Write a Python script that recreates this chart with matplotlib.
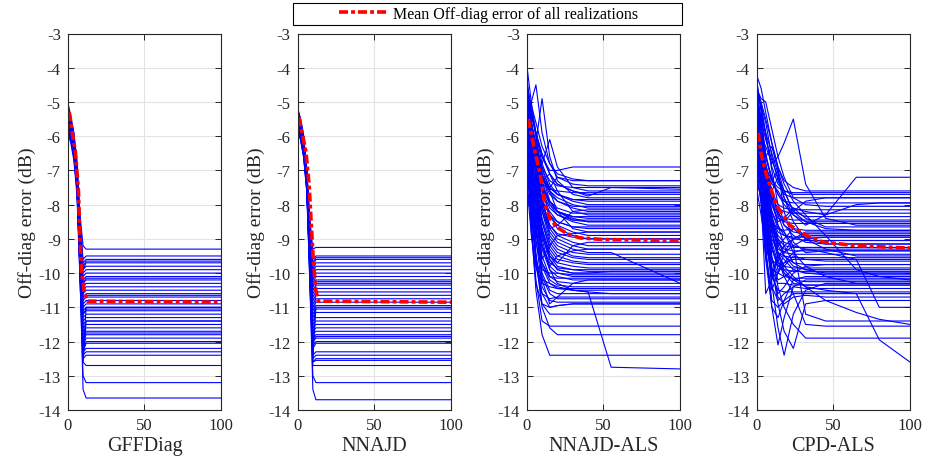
import matplotlib.pyplot as plt
from matplotlib.patches import Rectangle

# ---- data (Off-diag error in dB vs iteration) ----
panel_names = ["GFFDiag", "NNAJD", "NNAJD-ALS", "CPD-ALS"]

# GFFDiag: each run sampled at these iterations
gffdiag_x = [0, 2, 4, 6, 8, 10, 12, 100]
gffdiag_runs = [
    [-5.0, -5.4, -5.9, -6.9, -8.3, -9.2, -9.3, -9.3],
    [-5.2, -5.5, -6.0, -6.8, -8.5, -9.6, -9.5, -9.5],
    [-5.3, -5.6, -6.1, -7.0, -8.6, -9.7, -9.6, -9.6],
    [-5.1, -5.5, -5.9, -6.7, -8.4, -9.8, -9.65, -9.65],
    [-5.4, -5.7, -6.2, -7.1, -8.7, -9.9, -9.7, -9.7],
    [-5.5, -5.8, -6.3, -7.2, -8.8, -9.9, -9.8, -9.8],
    [-5.2, -5.6, -6.0, -6.9, -8.6, -10.0, -9.9, -9.9],
    [-5.6, -5.9, -6.4, -7.3, -9.0, -10.1, -10.0, -10.0],
    [-5.3, -5.7, -6.1, -7.0, -8.8, -10.2, -10.1, -10.1],
    [-5.4, -5.8, -6.3, -7.2, -9.0, -10.3, -10.15, -10.15],
    [-5.7, -6.0, -6.5, -7.4, -9.1, -10.3, -10.2, -10.2],
    [-5.2, -5.6, -6.1, -7.0, -8.9, -10.4, -10.3, -10.3],
    [-5.5, -5.8, -6.3, -7.3, -9.2, -10.5, -10.4, -10.4],
    [-5.3, -5.7, -6.2, -7.1, -9.0, -10.6, -10.5, -10.5],
    [-5.8, -6.1, -6.6, -7.5, -9.3, -10.7, -10.6, -10.6],
    [-5.4, -5.8, -6.2, -7.1, -9.1, -10.7, -10.65, -10.65],
    [-5.6, -5.9, -6.4, -7.3, -9.3, -10.8, -10.7, -10.7],
    [-5.3, -5.7, -6.1, -7.0, -9.1, -10.9, -10.8, -10.8],
    [-5.5, -5.8, -6.3, -7.2, -9.3, -11.0, -10.9, -10.9],
    [-5.2, -5.6, -6.1, -7.1, -9.2, -11.1, -11.0, -11.0],
    [-5.7, -6.0, -6.5, -7.5, -9.5, -11.2, -11.05, -11.05],
    [-5.4, -5.7, -6.2, -7.2, -9.3, -11.2, -11.1, -11.1],
    [-5.6, -5.9, -6.4, -7.4, -9.5, -11.3, -11.2, -11.2],
    [-5.3, -5.6, -6.1, -7.1, -9.3, -11.4, -11.3, -11.3],
    [-5.5, -5.8, -6.3, -7.3, -9.6, -11.5, -11.4, -11.4],
    [-5.8, -6.1, -6.6, -7.6, -9.8, -11.6, -11.5, -11.5],
    [-5.4, -5.7, -6.2, -7.2, -9.5, -11.7, -11.6, -11.6],
    [-5.6, -5.9, -6.4, -7.4, -9.7, -11.8, -11.7, -11.7],
    [-5.3, -5.6, -6.1, -7.1, -9.5, -11.9, -11.75, -11.75],
    [-5.5, -5.8, -6.3, -7.3, -9.8, -12.0, -11.8, -11.8],
    [-5.7, -6.0, -6.5, -7.5, -9.9, -12.1, -11.9, -11.9],
    [-5.4, -5.7, -6.2, -7.2, -9.7, -12.2, -12.0, -12.0],
    [-5.6, -5.9, -6.4, -7.4, -9.9, -12.3, -12.05, -12.05],
    [-5.3, -5.6, -6.1, -7.1, -9.7, -12.3, -12.2, -12.2],
    [-5.5, -5.8, -6.3, -7.3, -9.9, -12.4, -12.3, -12.3],
    [-5.9, -6.2, -6.7, -7.7, -10.2, -12.5, -12.4, -12.4],
    [-5.4, -5.7, -6.2, -7.2, -9.9, -12.6, -12.7, -12.7],
    [-5.6, -5.9, -6.4, -7.4, -10.1, -13.0, -13.2, -13.2],
    [-5.5, -5.8, -6.3, -7.3, -10.0, -13.4, -13.65, -13.65],
    [-5.3, -5.6, -6.1, -7.1, -9.4, -12.4, -11.0, -11.0],
    [-5.6, -5.9, -6.4, -7.3, -9.6, -12.6, -11.4, -11.4],
]
gffdiag_mean_x = [1, 3, 5, 7, 8, 9, 11, 13, 100]
gffdiag_mean_y = [-5.3, -5.9, -6.45, -7.6, -9.0, -9.95, -10.6, -10.82, -10.85]

# NNAJD
nnajd_x = [0, 2, 4, 6, 8, 10, 12, 100]
nnajd_runs = [
    [-5.15, -5.5, -6.0, -7.0, -8.4, -9.3, -9.25, -9.25],
    [-5.3, -5.6, -6.1, -6.9, -8.6, -9.6, -9.5, -9.5],
    [-5.2, -5.5, -6.0, -7.0, -8.5, -9.7, -9.55, -9.55],
    [-5.4, -5.7, -6.2, -7.1, -8.7, -9.8, -9.6, -9.6],
    [-5.5, -5.8, -6.3, -7.2, -8.8, -9.9, -9.7, -9.7],
    [-5.3, -5.6, -6.1, -7.0, -8.7, -9.95, -9.8, -9.8],
    [-5.6, -5.9, -6.4, -7.3, -9.0, -10.1, -9.9, -9.9],
    [-5.4, -5.7, -6.2, -7.1, -8.9, -10.2, -10.0, -10.0],
    [-5.2, -5.6, -6.1, -7.0, -8.8, -10.3, -10.1, -10.1],
    [-5.7, -6.0, -6.5, -7.4, -9.2, -10.4, -10.2, -10.2],
    [-5.5, -5.8, -6.3, -7.2, -9.0, -10.4, -10.25, -10.25],
    [-5.3, -5.7, -6.2, -7.1, -9.0, -10.5, -10.35, -10.35],
    [-5.6, -5.9, -6.4, -7.3, -9.2, -10.6, -10.45, -10.45],
    [-5.4, -5.8, -6.3, -7.2, -9.1, -10.7, -10.55, -10.55],
    [-5.8, -6.1, -6.6, -7.5, -9.4, -10.8, -10.65, -10.65],
    [-5.5, -5.8, -6.3, -7.2, -9.2, -10.9, -10.75, -10.75],
    [-5.3, -5.6, -6.1, -7.1, -9.1, -11.0, -10.85, -10.85],
    [-5.6, -5.9, -6.4, -7.4, -9.4, -11.1, -10.95, -10.95],
    [-5.4, -5.7, -6.2, -7.2, -9.3, -11.2, -11.05, -11.05],
    [-5.7, -6.0, -6.5, -7.5, -9.5, -11.3, -11.15, -11.15],
    [-5.5, -5.8, -6.3, -7.3, -9.4, -11.4, -11.3, -11.3],
    [-5.3, -5.6, -6.1, -7.1, -9.3, -11.5, -11.4, -11.4],
    [-5.6, -5.9, -6.4, -7.4, -9.6, -11.6, -11.5, -11.5],
    [-5.4, -5.7, -6.2, -7.2, -9.5, -11.7, -11.6, -11.6],
    [-5.8, -6.1, -6.6, -7.6, -9.8, -11.8, -11.7, -11.7],
    [-5.5, -5.8, -6.3, -7.3, -9.6, -11.9, -11.8, -11.8],
    [-5.3, -5.6, -6.1, -7.1, -9.5, -12.0, -11.85, -11.85],
    [-5.6, -5.9, -6.4, -7.4, -9.8, -12.0, -11.9, -11.9],
    [-5.4, -5.7, -6.2, -7.2, -9.7, -12.1, -12.0, -12.0],
    [-5.7, -6.0, -6.5, -7.5, -9.9, -12.2, -12.05, -12.05],
    [-5.5, -5.8, -6.3, -7.3, -9.8, -12.4, -12.3, -12.3],
    [-5.3, -5.6, -6.1, -7.1, -9.7, -12.5, -12.4, -12.4],
    [-5.6, -5.9, -6.4, -7.4, -10.0, -12.6, -12.5, -12.5],
    [-5.4, -5.7, -6.2, -7.2, -9.9, -12.6, -12.55, -12.55],
    [-5.8, -6.1, -6.6, -7.6, -10.2, -12.7, -12.7, -12.7],
    [-5.5, -5.8, -6.3, -7.3, -10.1, -13.0, -13.2, -13.2],
    [-5.6, -5.9, -6.4, -7.4, -10.2, -13.4, -13.7, -13.7],
    [-5.4, -5.7, -6.2, -7.2, -9.6, -12.3, -10.3, -10.3],
    [-5.5, -5.8, -6.3, -7.3, -9.7, -12.5, -11.0, -11.0],
]
nnajd_mean_x = [1, 3, 5.5, 7.6, 9, 10.4, 12, 13.5, 100]
nnajd_mean_y = [-5.45, -5.9, -6.46, -7.44, -8.6, -9.7, -10.5, -10.82, -10.85]

# NNAJD-ALS
als_x = [0, 3, 6, 10, 15, 20, 30, 40, 55, 100]
als_runs = [
    [-3.9, -5.0, -5.9, -6.6, -7.0, -7.0, -6.9, -6.9, -6.9, -6.9],
    [-4.5, -5.1, -5.6, -6.3, -6.8, -7.1, -7.25, -7.3, -7.3, -7.3],
    [-5.2, -5.0, -4.5, -5.9, -6.8, -7.2, -7.4, -7.45, -7.45, -7.45],
    [-4.7, -5.3, -5.9, -6.6, -7.1, -7.4, -7.6, -7.75, -7.5, -7.55],
    [-5.6, -6.0, -6.4, -6.8, -6.1, -6.9, -7.5, -7.6, -7.6, -7.6],
    [-4.8, -5.4, -5.9, -6.5, -7.1, -7.4, -7.6, -7.7, -7.7, -7.7],
    [-5.1, -5.8, -6.2, -4.9, -6.6, -7.3, -7.7, -7.8, -7.8, -7.8],
    [-6.2, -6.6, -6.9, -7.2, -7.5, -7.7, -7.85, -7.9, -7.9, -7.9],
    [-4.6, -5.3, -5.9, -6.8, -7.4, -7.7, -7.9, -8.0, -8.0, -8.0],
    [-5.8, -6.3, -6.7, -7.1, -7.6, -7.8, -8.0, -8.1, -8.1, -8.1],
    [-4.9, -5.6, -6.2, -6.9, -7.6, -7.9, -8.1, -8.2, -8.2, -8.2],
    [-5.4, -6.1, -6.6, -7.3, -7.1, -7.6, -8.2, -8.3, -8.3, -8.3],
    [-6.5, -6.9, -7.2, -7.5, -7.9, -8.2, -8.35, -8.4, -8.4, -8.4],
    [-4.4, -5.3, -6.0, -7.1, -7.9, -8.2, -8.4, -8.5, -8.5, -8.5],
    [-5.3, -6.0, -6.5, -7.3, -8.0, -8.3, -8.5, -8.6, -8.6, -8.6],
    [-7.0, -7.3, -7.6, -7.9, -8.2, -8.5, -8.65, -8.7, -8.7, -8.7],
    [-5.0, -5.8, -6.4, -7.2, -7.6, -8.2, -8.7, -8.8, -8.8, -8.8],
    [-5.7, -6.3, -6.8, -7.6, -8.3, -8.6, -8.8, -8.9, -8.9, -8.9],
    [-4.6, -5.6, -6.3, -7.5, -8.3, -8.7, -8.9, -9.0, -9.0, -9.0],
    [-6.0, -6.6, -7.1, -7.9, -8.6, -8.9, -9.1, -9.2, -9.2, -9.2],
    [-5.2, -6.1, -6.8, -7.9, -8.7, -9.0, -9.2, -9.3, -9.3, -9.3],
    [-6.8, -7.2, -7.6, -8.2, -8.8, -9.1, -9.3, -9.4, -9.4, -10.3],
    [-4.8, -5.9, -6.7, -8.0, -8.9, -9.2, -9.4, -9.45, -9.45, -9.45],
    [-5.5, -6.4, -7.0, -8.2, -9.0, -9.3, -9.5, -9.55, -9.55, -9.55],
    [-6.3, -7.0, -7.5, -8.4, -9.1, -9.4, -9.55, -9.6, -9.6, -9.6],
    [-5.0, -6.2, -7.1, -8.5, -9.2, -9.5, -9.65, -9.7, -9.7, -9.7],
    [-5.9, -6.8, -7.4, -8.5, -9.3, -9.6, -9.7, -9.75, -9.75, -9.75],
    [-7.2, -7.7, -8.1, -8.7, -9.4, -9.7, -9.8, -9.85, -9.85, -9.85],
    [-4.7, -6.1, -7.2, -8.8, -9.5, -9.8, -9.9, -9.95, -9.95, -9.95],
    [-5.6, -6.7, -7.5, -8.9, -9.6, -9.9, -10.0, -10.0, -10.0, -10.0],
    [-6.6, -7.5, -8.1, -9.2, -9.8, -10.0, -10.1, -10.1, -10.1, -10.1],
    [-5.1, -6.7, -7.8, -9.3, -9.9, -10.1, -10.2, -10.2, -10.2, -10.2],
    [-6.0, -7.3, -8.2, -9.5, -10.1, -10.25, -10.3, -10.3, -10.3, -10.3],
    [-7.5, -8.2, -8.8, -9.7, -10.2, -10.35, -10.4, -10.4, -10.4, -10.4],
    [-5.3, -7.0, -8.3, -9.8, -10.3, -10.45, -10.5, -10.5, -10.5, -10.5],
    [-6.2, -7.6, -8.7, -10.0, -10.5, -10.6, -10.6, -10.6, -10.6, -10.6],
    [-4.9, -6.9, -8.5, -10.1, -10.6, -10.75, -10.75, -10.75, -10.75, -10.75],
    [-5.8, -7.6, -9.0, -10.4, -10.8, -10.85, -10.85, -10.85, -10.85, -10.85],
    [-6.9, -8.3, -9.5, -10.6, -11.0, -10.95, -10.9, -10.9, -10.9, -10.9],
    [-5.4, -7.6, -9.4, -10.9, -11.2, -11.2, -11.2, -11.2, -11.2, -11.2],
    [-6.4, -8.5, -10.2, -11.4, -11.55, -11.55, -11.55, -11.55, -11.55, -11.55],
    [-5.6, -7.9, -9.6, -11.0, -11.6, -11.8, -11.8, -11.8, -11.8, -11.8],
    [-6.1, -8.6, -10.5, -11.8, -12.4, -12.4, -12.4, -12.4, -12.4, -12.4],
    [-5.0, -6.4, -7.6, -9.0, -9.9, -10.3, -10.5, -10.55, -12.75, -12.8],
    [-5.3, -7.1, -8.6, -10.2, -10.9, -10.7, -10.3, -10.2, -10.2, -10.2],
    [-6.7, -7.3, -7.9, -8.7, -9.5, -9.7, -9.2, -9.1, -9.1, -9.1],
    [-4.2, -5.5, -6.6, -7.9, -8.6, -8.85, -8.95, -9.0, -9.0, -9.0],
    [-5.9, -6.4, -6.9, -7.4, -7.9, -8.2, -8.45, -8.5, -8.5, -8.5],
    [-5.5, -6.0, -6.4, -6.9, -7.3, -7.45, -7.5, -7.5, -7.5, -7.5],
    [-6.8, -7.0, -7.2, -7.4, -7.55, -7.6, -7.65, -7.65, -7.65, -7.65],
    [-4.5, -5.6, -6.3, -7.0, -7.5, -7.7, -7.85, -7.85, -7.85, -7.85],
    [-5.2, -5.9, -6.5, -7.2, -7.7, -7.9, -8.05, -8.05, -8.05, -8.05],
    [-6.0, -6.5, -6.9, -7.5, -7.9, -8.1, -8.25, -8.25, -8.25, -8.25],
    [-4.9, -5.8, -6.6, -7.5, -8.0, -8.2, -8.35, -8.35, -8.35, -8.35],
    [-5.7, -6.3, -6.9, -7.6, -8.1, -8.3, -8.45, -8.45, -8.45, -8.45],
    [-6.4, -6.9, -7.3, -7.9, -8.3, -8.5, -8.65, -8.65, -8.65, -8.65],
    [-6.5, -8.8, -10.3, -10.9, -11.0, -10.95, -10.9, -10.9, -10.9, -10.9],
    [-5.9, -8.2, -9.6, -10.2, -10.3, -10.4, -10.5, -10.55, -10.6, -10.6],
    [-4.9, -7.4, -9.1, -9.9, -10.0, -10.0, -10.05, -10.05, -10.05, -10.05],
    [-7.3, -8.9, -9.8, -10.3, -10.4, -10.45, -10.45, -10.45, -10.45, -10.45],
    [-5.4, -6.3, -7.6, -8.9, -9.6, -9.9, -10.0, -10.0, -9.95, -9.95],
    [-4.6, -5.2, -6.0, -7.3, -7.5, -7.2, -7.3, -7.3, -7.3, -7.3],
    [-6.0, -6.8, -7.9, -9.2, -9.8, -9.5, -9.35, -9.3, -9.3, -9.3],
    [-5.1, -6.6, -8.2, -9.6, -9.2, -8.9, -8.85, -8.8, -8.8, -8.8],
    [-6.3, -7.6, -8.8, -9.7, -10.1, -10.15, -10.15, -10.15, -10.15, -10.15],
    [-5.7, -7.9, -9.8, -10.6, -10.75, -10.7, -10.7, -10.7, -10.7, -10.7],
    [-4.8, -5.9, -7.0, -8.1, -8.7, -8.6, -8.2, -8.15, -8.15, -8.15],
    [-6.6, -7.4, -8.3, -9.2, -9.7, -9.85, -9.9, -9.9, -9.9, -9.9],
]
als_mean_x = [1, 5.4, 8.7, 11.9, 15.1, 19.4, 25.9, 34.6, 50, 100]
als_mean_y = [-5.5, -6.46, -7.1, -8.0, -8.4, -8.65, -8.84, -8.97, -9.02, -9.05]

# CPD-ALS
cpd_x = [0, 3, 6, 10, 14, 18, 24, 32, 45, 65, 80, 100]
cpd_runs = [
    [-4.2, -4.6, -5.3, -6.2, -6.9, -7.3, -7.5, -7.6, -7.6, -7.6, -7.6, -7.6],
    [-4.6, -4.9, -5.0, -5.8, -6.6, -6.2, -5.5, -7.4, -8.4, -8.6, -8.6, -8.6],
    [-5.0, -5.5, -6.1, -6.7, -7.2, -7.8, -8.3, -8.6, -8.3, -7.2, -7.2, -7.2],
    [-4.4, -5.2, -6.0, -6.9, -7.4, -7.6, -7.7, -7.7, -7.7, -7.7, -7.7, -7.7],
    [-5.3, -5.1, -5.6, -6.6, -7.3, -7.7, -7.8, -7.8, -7.8, -7.8, -7.8, -7.8],
    [-4.9, -5.7, -6.5, -7.3, -7.7, -7.9, -7.95, -7.95, -7.95, -7.95, -7.95, -7.95],
    [-5.8, -6.0, -6.3, -6.8, -6.6, -7.2, -7.8, -8.0, -8.05, -8.05, -8.05, -8.05],
    [-5.5, -6.2, -6.9, -7.6, -8.0, -8.1, -8.15, -8.15, -8.15, -8.15, -8.15, -8.15],
    [-6.2, -6.7, -7.2, -7.8, -8.1, -8.2, -8.25, -8.25, -8.25, -8.25, -8.25, -8.25],
    [-4.7, -5.6, -6.6, -7.3, -7.0, -7.6, -8.2, -8.35, -8.35, -8.35, -8.35, -8.35],
    [-5.6, -6.4, -7.1, -7.9, -8.3, -8.4, -8.45, -8.45, -8.45, -8.45, -8.45, -8.45],
    [-6.6, -7.0, -7.5, -8.0, -8.4, -8.5, -8.55, -8.55, -8.55, -8.55, -8.55, -8.55],
    [-5.1, -6.0, -7.0, -8.0, -8.5, -8.4, -8.1, -8.4, -8.65, -8.65, -8.65, -8.65],
    [-4.8, -5.9, -7.1, -8.2, -8.7, -8.75, -8.7, -8.75, -8.75, -8.75, -8.75, -8.75],
    [-6.0, -6.7, -7.3, -7.8, -8.2, -8.6, -8.8, -8.85, -8.85, -8.85, -8.85, -8.85],
    [-5.4, -6.5, -7.5, -8.4, -8.8, -8.9, -8.95, -8.95, -8.95, -8.95, -8.95, -8.95],
    [-7.0, -7.3, -7.7, -8.2, -8.6, -8.9, -9.0, -9.05, -9.05, -9.05, -9.05, -9.05],
    [-5.2, -6.4, -7.6, -8.7, -9.2, -9.0, -8.7, -9.0, -9.15, -9.15, -9.15, -9.15],
    [-5.9, -6.8, -7.7, -8.6, -9.0, -9.2, -9.25, -9.25, -9.25, -9.25, -9.25, -9.25],
    [-4.5, -5.8, -7.2, -8.5, -9.1, -9.3, -9.35, -9.35, -9.35, -9.35, -9.35, -9.35],
    [-6.4, -7.0, -7.7, -8.5, -9.1, -9.4, -9.45, -9.45, -9.45, -9.45, -9.45, -9.45],
    [-5.7, -6.9, -8.0, -9.0, -9.4, -9.5, -9.55, -9.55, -9.55, -9.55, -9.55, -9.55],
    [-5.0, -6.3, -7.8, -9.2, -9.9, -9.8, -9.5, -9.6, -9.65, -9.65, -9.65, -9.65],
    [-6.8, -7.3, -7.9, -8.6, -9.2, -9.5, -9.7, -9.75, -9.75, -9.75, -9.75, -9.75],
    [-5.3, -6.7, -8.1, -9.3, -9.7, -9.8, -9.85, -9.85, -9.85, -9.85, -9.85, -9.85],
    [-6.1, -7.1, -8.2, -9.3, -9.8, -9.9, -9.95, -9.95, -9.95, -9.95, -9.95, -9.95],
    [-4.9, -6.5, -8.2, -9.6, -10.2, -10.1, -9.9, -10.0, -10.05, -10.05, -10.05, -10.05],
    [-5.6, -7.0, -8.4, -9.6, -10.0, -10.1, -10.15, -10.15, -10.15, -10.15, -10.15, -10.15],
    [-7.3, -7.8, -8.4, -9.1, -9.7, -10.0, -10.2, -10.25, -10.25, -10.25, -10.25, -10.25],
    [-5.8, -7.3, -8.7, -9.9, -10.3, -10.3, -10.35, -10.35, -10.35, -10.35, -10.35, -10.35],
    [-5.1, -6.9, -8.8, -10.4, -10.8, -10.6, -10.4, -10.45, -10.45, -10.45, -10.45, -10.45],
    [-6.3, -7.7, -9.0, -10.1, -10.5, -10.55, -10.55, -10.55, -10.55, -10.55, -10.55, -10.55],
    [-5.5, -7.5, -9.4, -10.8, -11.0, -10.8, -10.6, -10.6, -10.6, -10.6, -10.6, -10.6],
    [-5.5, -7.0, -8.5, -10.3, -11.6, -12.4, -11.2, -10.5, -10.3, -10.3, -10.3, -10.3],
    [-6.0, -7.6, -9.2, -11.0, -12.1, -11.3, -10.4, -10.2, -10.2, -10.2, -10.2, -10.2],
    [-5.2, -6.8, -8.3, -9.8, -10.9, -11.7, -12.2, -10.9, -10.8, -10.8, -10.8, -10.8],
    [-5.7, -7.8, -10.6, -10.2, -9.4, -9.6, -9.9, -10.0, -10.0, -10.0, -10.0, -10.0],
    [-6.5, -7.2, -7.9, -8.5, -8.7, -8.8, -9.2, -11.2, -11.4, -11.4, -11.4, -11.4],
    [-5.4, -6.6, -7.7, -8.8, -9.6, -10.1, -10.6, -11.5, -11.55, -11.55, -11.55, -11.55],
    [-4.8, -6.2, -7.9, -9.5, -10.4, -11.0, -11.5, -11.9, -11.9, -11.9, -11.9, -11.9],
    [-5.9, -6.9, -7.9, -8.8, -9.4, -9.8, -10.1, -10.4, -10.8, -11.15, -11.35, -11.5],
    [-6.1, -7.0, -7.8, -8.5, -8.9, -9.1, -9.2, -9.3, -9.4, -9.6, -11.0, -11.0],
    [-5.3, -6.4, -7.6, -8.8, -9.5, -9.9, -10.2, -10.4, -10.5, -10.6, -11.95, -12.6],
    [-4.3, -5.3, -6.6, -6.3, -7.0, -8.2, -9.1, -9.4, -9.35, -9.35, -9.35, -9.35],
    [-6.9, -7.5, -8.0, -7.6, -7.2, -7.6, -8.2, -8.5, -8.5, -8.5, -8.5, -8.5],
    [-5.0, -5.4, -5.9, -6.5, -7.1, -7.8, -8.5, -9.0, -9.3, -9.5, -9.5, -9.5],
    [-6.5, -7.4, -8.6, -9.9, -10.7, -10.9, -10.7, -10.65, -10.7, -10.7, -10.7, -10.7],
    [-4.6, -5.0, -5.5, -6.2, -6.9, -7.4, -7.9, -8.3, -8.9, -9.9, -10.1, -10.2],
    [-7.5, -8.3, -9.2, -9.9, -10.0, -9.7, -9.4, -9.3, -9.3, -9.3, -9.3, -9.3],
    [-5.2, -6.2, -7.0, -7.4, -7.6, -7.9, -8.1, -8.2, -8.3, -8.0, -7.95, -7.95],
    [-6.7, -6.6, -6.9, -7.3, -7.5, -7.6, -7.65, -7.65, -7.65, -7.65, -7.65, -7.65],
    [-5.6, -6.0, -6.6, -7.2, -7.7, -8.0, -8.3, -8.5, -8.7, -8.75, -8.75, -8.75],
    [-5.4, -7.2, -9.0, -10.0, -9.6, -9.2, -9.0, -8.9, -8.9, -8.9, -8.9, -8.9],
    [-4.5, -5.6, -7.0, -8.4, -9.4, -10.0, -10.3, -10.35, -10.35, -10.35, -10.35, -10.35],
    [-6.2, -7.8, -9.5, -10.5, -10.0, -9.4, -9.0, -8.8, -8.8, -8.8, -8.8, -8.8],
    [-5.0, -5.8, -6.8, -7.8, -8.6, -9.2, -9.7, -9.9, -10.0, -10.0, -10.0, -10.0],
    [-6.8, -8.0, -9.6, -11.0, -11.3, -10.8, -10.2, -10.1, -10.1, -10.1, -10.1, -10.1],
    [-5.7, -6.3, -7.0, -7.7, -8.2, -8.6, -8.9, -9.1, -9.15, -9.15, -9.15, -9.15],
    [-4.7, -5.1, -5.9, -7.0, -8.0, -8.5, -8.2, -7.9, -7.8, -7.8, -7.8, -7.8],
    [-6.0, -6.6, -7.4, -8.3, -9.0, -9.5, -9.8, -9.9, -9.9, -9.9, -9.9, -9.9],
    [-5.3, -6.8, -8.6, -10.0, -10.6, -10.4, -10.0, -9.8, -9.75, -9.75, -9.75, -9.75],
    [-7.1, -7.9, -8.9, -9.6, -9.8, -9.7, -9.6, -9.6, -9.6, -9.6, -9.6, -9.6],
    [-5.9, -6.2, -6.8, -7.6, -8.3, -8.8, -9.4, -9.8, -10.1, -10.3, -10.3, -10.3],
    [-4.9, -6.0, -7.4, -8.6, -9.3, -9.4, -9.2, -9.0, -8.95, -8.95, -8.95, -8.95],
]
cpd_mean_x = [1, 3, 6.5, 13, 21.6, 32.6, 43, 65, 100]
cpd_mean_y = [-5.9, -6.5, -7.14, -8.02, -8.6, -8.9, -9.09, -9.2, -9.27]

legend_label = "Mean Off-diag error of all realizations"
y_ticks = list(range(-14, -2))
x_ticks = [0, 50, 100]

# ---- drawing ----
plt.rcParams['font.family'] = ['Liberation Serif', 'DejaVu Serif']
plt.rcParams['axes.unicode_minus'] = False
plt.rcParams['lines.scale_dashes'] = False

W, H = 926, 464
fig = plt.figure(figsize=(W / 100, H / 100), dpi=100)

panels = [
    (gffdiag_x, gffdiag_runs, gffdiag_mean_x, gffdiag_mean_y),
    (nnajd_x, nnajd_runs, nnajd_mean_x, nnajd_mean_y),
    (als_x, als_runs, als_mean_x, als_mean_y),
    (cpd_x, cpd_runs, cpd_mean_x, cpd_mean_y),
]
left_px = [67.7, 297.5, 526.7, 756.5]
ax_w, ax_top, ax_bot = 153.5, 34.5, 411.0
dark = '#262626'

mean_line = None
for left, name, (xs, runs, mx, my) in zip(left_px, panel_names, panels):
    ax = fig.add_axes([left / W, 1 - ax_bot / H, ax_w / W, (ax_bot - ax_top) / H])
    for run in runs:
        ax.plot(xs, run, color='b', lw=0.8)
    mean_line, = ax.plot(mx, my, color='r', lw=2.6,
                         dashes=[6.5, 2.2, 2.8, 2.2], label=legend_label)

    ax.set_xlim(0, 100)
    ax.set_ylim(-14, -3)
    ax.set_xticks(x_ticks)
    ax.set_yticks(y_ticks)
    ax.grid(True, color='#e3e3e3', lw=0.8)
    ax.set_axisbelow(True)
    ax.tick_params(direction='in', length=4, top=True, right=True,
                   labelsize=12, colors=dark, width=0.7)
    ax.tick_params(axis='x', pad=5)
    ax.tick_params(axis='y', pad=5)
    for sp in ax.spines.values():
        sp.set_color(dark)
        sp.set_linewidth(0.8)
    ax.set_xlabel(name, fontsize=14.5, color=dark, labelpad=2)
    ax.set_ylabel("Off-diag error (dB)", fontsize=14, color=dark, labelpad=2)

# shared legend with a square black frame
fig.legend(handles=[mean_line], loc='center', frameon=False, fontsize=11.5,
           handlelength=3.0, handletextpad=0.4,
           bbox_to_anchor=(488.5 / W, 1 - 15 / H))
fig.add_artist(Rectangle((293 / W, 1 - 26 / H), 389 / W, 22 / H,
                         transform=fig.transFigure, fill=False,
                         edgecolor='k', lw=0.8))

fig.savefig("out.png", dpi=100)
plt.close(fig)
